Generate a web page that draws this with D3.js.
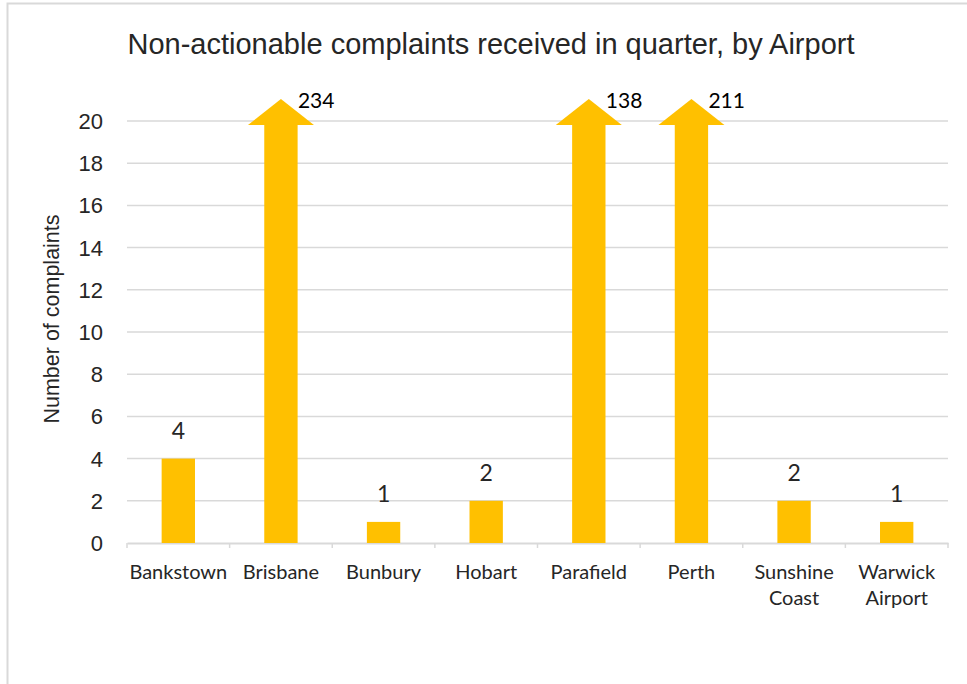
<!DOCTYPE html>
<html><head><meta charset="utf-8">
<script src="https://cdn.jsdelivr.net/npm/d3@7"></script>
<style>html,body{margin:0;padding:0;background:#fff;}svg{display:block;}</style>
</head><body>
<svg id="chart" width="967" height="684"></svg>
<script>
const categories = ["Bankstown","Brisbane","Bunbury","Hobart","Parafield","Perth","Sunshine Coast","Warwick Airport"];
const categoryLines = [["Bankstown"],["Brisbane"],["Bunbury"],["Hobart"],["Parafield"],["Perth"],["Sunshine","Coast"],["Warwick","Airport"]];
const values = [4, 234, 1, 2, 138, 211, 2, 1];
const axisMax = 20;
const yTicks = [0,2,4,6,8,10,12,14,16,18,20];
const title = "Non-actionable complaints received in quarter, by Airport";
const yTitle = "Number of complaints";

(function(){
const svg = d3.select("#chart");
const barColor = "#FFC000";
const gridColor = "#d9d9d9";
const pLeft = 127, pRight = 948, pTop = 121, pBottom = 543;

// chart border
svg.append("rect").attr("x",7.5).attr("y",3.5).attr("width",1000).attr("height",1000)
  .attr("fill","#fff").attr("stroke","#d9d9d9").attr("stroke-width",2);

const x = d3.scaleBand().domain(categories).range([pLeft, pRight]).padding(0);
const y = d3.scaleLinear().domain([0, axisMax]).range([pBottom, pTop]);

// gridlines
svg.append("g").selectAll("line").data(yTicks.filter(d=>d>0)).join("line")
  .attr("x1",pLeft).attr("x2",pRight).attr("y1",d=>y(d)).attr("y2",d=>y(d))
  .attr("stroke",gridColor).attr("stroke-width",1.5);

// y tick labels
svg.append("g").selectAll("text").data(yTicks).join("text")
  .attr("x",103).attr("y",d=>y(d)).attr("dy","0.36em").attr("text-anchor","end")
  .attr("font-family","'Liberation Sans', Arial, sans-serif").attr("font-size",22).attr("fill","#262626")
  .text(d=>d);

// x axis line and ticks
const xAxis = d3.axisBottom(x).tickSize(0).tickFormat("");
const gx = svg.append("g").attr("transform",`translate(0,${pBottom})`).call(xAxis);
gx.select(".domain").attr("stroke",gridColor).attr("stroke-width",2);
const bounds = categories.map(c=>x(c)).concat([pRight]);
svg.append("g").selectAll("line").data(bounds).join("line")
  .attr("x1",d=>d).attr("x2",d=>d).attr("y1",pBottom).attr("y2",pBottom+5)
  .attr("stroke",gridColor).attr("stroke-width",1.5);

const bw = x.bandwidth()*0.325;
const cx = c => x(c) + x.bandwidth()/2;

// bars
svg.append("g").selectAll("rect").data(categories).join("rect")
  .attr("x",c=>cx(c)-bw/2).attr("width",bw)
  .attr("y",(c,i)=>y(Math.min(values[i],axisMax)))
  .attr("height",(c,i)=>y(0)-y(Math.min(values[i],axisMax)))
  .attr("fill",barColor);

// arrow heads for capped bars
const capped = categories.map((c,i)=>({c, v: values[i]})).filter(d=>d.v>axisMax);
svg.append("g").selectAll("path").data(capped).join("path")
  .attr("d",d=>{
    const xc = cx(d.c), yb = y(axisMax)+4, ya = y(axisMax)-22, hw = 33;
    return `M${xc-hw},${yb}L${xc},${ya}L${xc+hw},${yb}Z`;
  })
  .attr("fill",barColor);
svg.append("g").selectAll("text").data(capped).join("text")
  .attr("x",d=>cx(d.c)+17).attr("y",108)
  .attr("font-family","Lato, 'Open Sans', sans-serif").attr("font-size",21).attr("fill","#000")
  .text(d=>d.v);

// value labels for uncapped
svg.append("g").selectAll("text").data(categories.map((c,i)=>({c,v:values[i]})).filter(d=>d.v<=axisMax)).join("text")
  .attr("x",d=>cx(d.c)).attr("y",d=>y(d.v)-20).attr("text-anchor","middle")
  .attr("font-family","Lato, 'Open Sans', sans-serif").attr("font-size",23).attr("fill","#262626")
  .text(d=>d.v);

// x labels
const xl = svg.append("g").selectAll("text").data(categories).join("text")
  .attr("x",c=>cx(c)).attr("y",579).attr("text-anchor","middle")
  .attr("font-family","Lato, 'Open Sans', sans-serif").attr("font-size",20).attr("fill","#262626");
xl.each(function(c,i){
  const t = d3.select(this);
  categoryLines[i].forEach((line,j)=>{
    t.append("tspan").attr("x",cx(c)).attr("dy",j===0?0:26).text(line);
  });
});

// title
svg.append("text").attr("x",491).attr("y",54).attr("text-anchor","middle")
  .attr("font-family","'Liberation Sans', Arial, sans-serif").attr("font-size",29).attr("fill","#262626")
  .text(title);

// y title
svg.append("text").attr("transform",`translate(59,${319}) rotate(-90)`).attr("text-anchor","middle")
  .attr("font-family","'Liberation Sans', Arial, sans-serif").attr("font-size",21.5).attr("fill","#262626")
  .text(yTitle);
})();
</script>
</body></html>
